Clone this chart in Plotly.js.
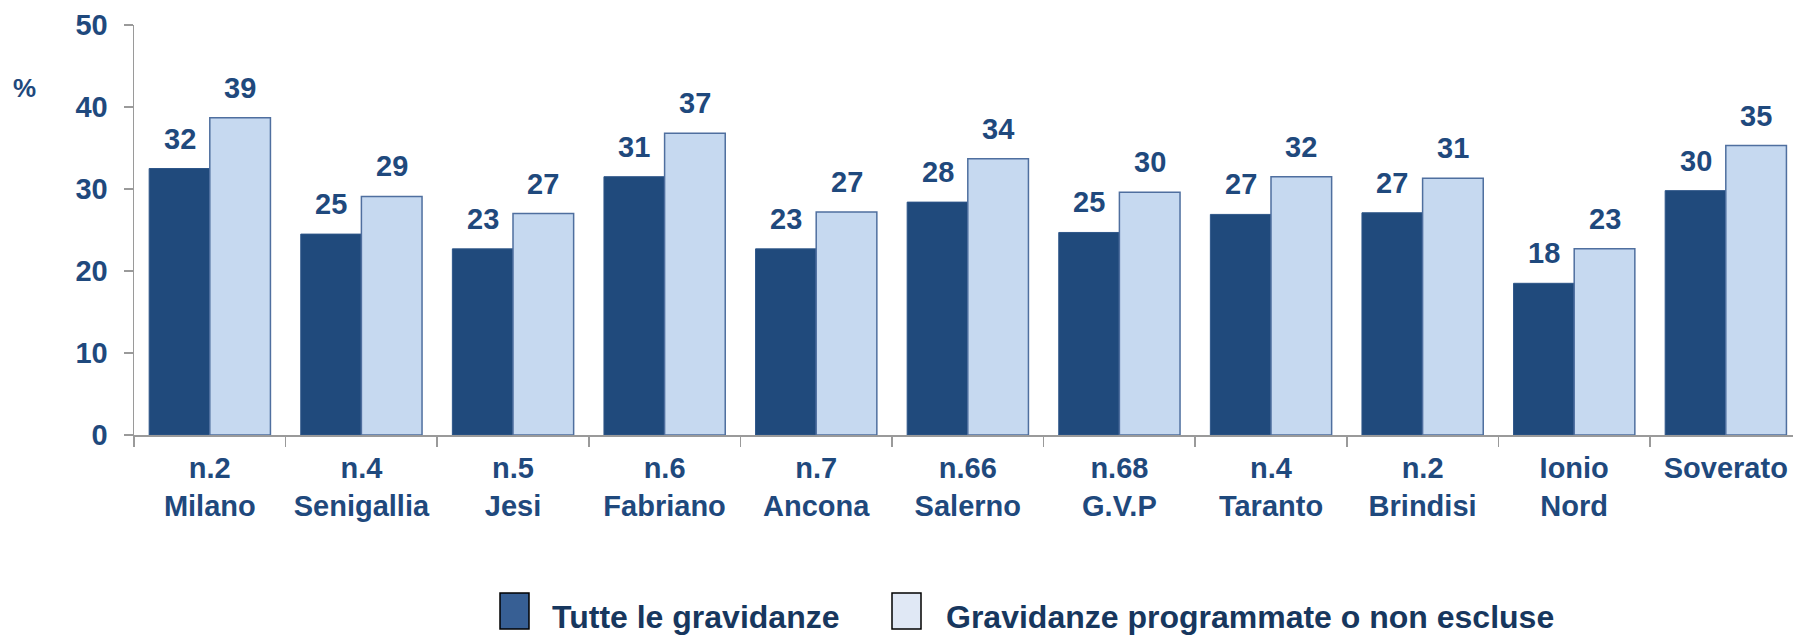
<!DOCTYPE html>
<html>
<head>
<meta charset="utf-8">
<script src="https://cdn.plot.ly/plotly-3.0.1.min.js"></script>
<style>html,body{margin:0;padding:0;background:#fff;}#chart{width:1793px;height:635px;}</style>
</head>
<body>
<div id="chart"></div>
<script>
const categories = ["n.2<br>Milano","n.4<br>Senigallia","n.5<br>Jesi","n.6<br>Fabriano","n.7<br>Ancona","n.66<br>Salerno","n.68<br>G.V.P","n.4<br>Taranto","n.2<br>Brindisi","Ionio<br>Nord","Soverato"];
const seriesNames = ["Tutte le gravidanze","Gravidanze programmate o non escluse"];
const tutte = [32.5,24.5,22.7,31.5,22.7,28.4,24.7,26.9,27.1,18.5,29.8];
const programmate = [38.7,29.1,27.0,36.8,27.2,33.7,29.6,31.5,31.3,22.7,35.3];
const tutteLabels = ["32","25","23","31","23","28","25","27","27","18","30"];
const programmateLabels = ["39","29","27","37","27","34","30","32","31","23","35"];
const yTicks = [0,10,20,30,40,50];

const textColor = "#1F497D";
const fontFam = "Arial, 'Liberation Sans', sans-serif";

// plot area in pixels
const L = 134, R = 1793, T = 25, B = 435;
const px = v => (v - L) / (R - L);
const py = v => (B - v) / (B - T);

const traces = [
  {type:"bar", name:seriesNames[0], x:categories, y:tutte,
   marker:{color:"#204A7C", line:{color:"#2E5689", width:1}}, showlegend:false, hoverinfo:"skip"},
  {type:"bar", name:seriesNames[1], x:categories, y:programmate,
   marker:{color:"#C6D9F0", line:{color:"#4F6F9F", width:1.5}}, showlegend:false, hoverinfo:"skip"}
];

const valFont = {family:fontFam, size:29, color:textColor, weight:"bold"};
const annotations = [];
categories.forEach((c,i)=>{
  annotations.push({x:c, y:tutte[i], xref:"x", yref:"y", text:tutteLabels[i], showarrow:false,
    xanchor:"center", yanchor:"bottom", xshift:-30.3, yshift:12, font:valFont});
  annotations.push({x:c, y:programmate[i], xref:"x", yref:"y", text:programmateLabels[i], showarrow:false,
    xanchor:"center", yanchor:"bottom", xshift:30.3, yshift:12, font:valFont});
});
annotations.push({x:px(11), y:py(88), xref:"paper", yref:"paper", text:"%", showarrow:false,
  xanchor:"left", yanchor:"middle", font:{family:fontFam, size:26, color:textColor, weight:"bold"}});
const legFont = {family:fontFam, size:32, color:"#17375E", weight:"bold"};
annotations.push({x:px(550), y:py(617), xref:"paper", yref:"paper", text:seriesNames[0], showarrow:false,
  xanchor:"left", yanchor:"middle", font:legFont});
annotations.push({x:px(944), y:py(617), xref:"paper", yref:"paper", text:seriesNames[1], showarrow:false,
  xanchor:"left", yanchor:"middle", font:legFont});

const shapes = [
  {type:"rect", xref:"paper", yref:"paper", x0:px(500), x1:px(529), y0:py(629), y1:py(593),
   fillcolor:"#375F94", line:{color:"#000", width:1.5}},
  {type:"rect", xref:"paper", yref:"paper", x0:px(892), x1:px(921), y0:py(629), y1:py(593),
   fillcolor:"#E0E8F5", line:{color:"#000", width:1.5}}
];

const catW = 151.6;
const layout = {
  width:1793, height:635,
  margin:{l:L, r:1793-R, t:T, b:635-B, pad:0},
  paper_bgcolor:"#fff", plot_bgcolor:"#fff",
  barmode:"group", bargap:0.2, bargroupgap:0,
  font:{family:fontFam, color:textColor},
  xaxis:{
    type:"category", range:[-0.5, -0.5 + (R-L)/catW],
    showline:true, linecolor:"#9A9A9A", linewidth:1.5,
    ticks:"outside", tickson:"boundaries", ticklen:10, tickcolor:"#9A9A9A", tickwidth:1.5,
    tickfont:{family:fontFam, size:29, color:textColor, weight:"bold"},
    ticklabelstandoff:7,
    showgrid:false, zeroline:false, fixedrange:true
  },
  yaxis:{
    range:[0,50], tickvals:yTicks, ticktext:yTicks.map(String),
    showline:true, linecolor:"#9A9A9A", linewidth:1.5,
    ticks:"outside", ticklen:9, tickcolor:"#9A9A9A", tickwidth:1.5,
    tickfont:{family:fontFam, size:29, color:textColor, weight:"bold"},
    ticklabelstandoff:10,
    showgrid:false, zeroline:false, fixedrange:true
  },
  annotations:annotations,
  shapes:shapes,
  showlegend:false
};

Plotly.newPlot("chart", traces, layout, {displayModeBar:false, staticPlot:true});
</script>
</body>
</html>
